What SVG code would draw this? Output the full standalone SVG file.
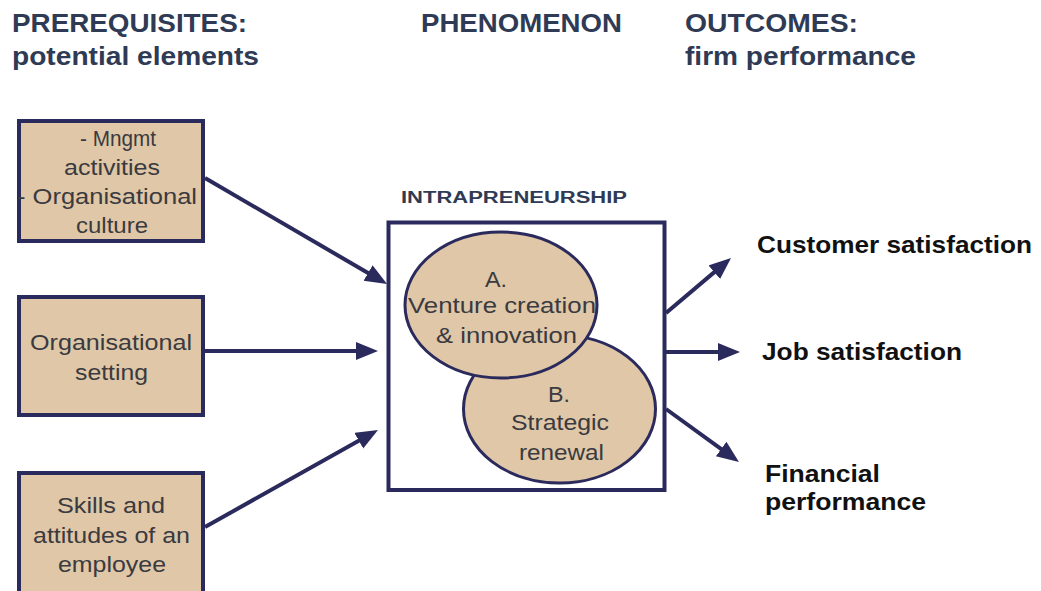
<svg xmlns="http://www.w3.org/2000/svg" width="1041" height="591" viewBox="0 0 1041 591">
<style>
.bg{fill:#ffffff}
.box{fill:#dfc7a7;stroke:#2a2a5c;stroke-width:4}
.frame{fill:#ffffff;stroke:#2a2a5c;stroke-width:4}
.ell{fill:#dfc7a7;stroke:#2a2a5c;stroke-width:3}
.head{font-family:"Liberation Sans",Arial,sans-serif;font-weight:bold;font-size:25px;fill:#2f3a55}
.sub{font-family:"Liberation Sans",Arial,sans-serif;font-weight:bold;font-size:16px;fill:#2f3a55}
.nt{font-family:"Liberation Sans",Arial,sans-serif;font-size:22px;fill:#3a3a40}
.out{font-family:"Liberation Sans",Arial,sans-serif;font-weight:bold;font-size:24px;fill:#111111}
.conn{stroke:#2a2a5c;stroke-width:4;fill:none;marker-end:url(#ah)}
</style>
<defs>
<marker id="ah" markerUnits="userSpaceOnUse" markerWidth="24" markerHeight="20" refX="4" refY="9" orient="auto">
<path d="M0,0 L22,9 L0,18 z" fill="#2a2a5c"/>
</marker>
</defs>
<rect class="bg" x="0" y="0" width="1041" height="591"/>
<g id="headings">
<text class="head" x="12" y="32" textLength="235" lengthAdjust="spacingAndGlyphs">PREREQUISITES:</text>
<text class="head" x="12" y="65" textLength="247" lengthAdjust="spacingAndGlyphs">potential elements</text>
<text class="head" x="421" y="32" textLength="201" lengthAdjust="spacingAndGlyphs">PHENOMENON</text>
<text class="head" x="685" y="32" textLength="173" lengthAdjust="spacingAndGlyphs">OUTCOMES:</text>
<text class="head" x="685" y="65" textLength="231" lengthAdjust="spacingAndGlyphs">firm performance</text>
</g>
<g id="connectors">
<line class="conn" x1="205" y1="178" x2="371.5" y2="275"/>
<line class="conn" x1="205" y1="351" x2="360" y2="351"/>
<line class="conn" x1="205" y1="527" x2="362.3" y2="438.8"/>
<line class="conn" x1="666" y1="313" x2="717.3" y2="269.6"/>
<line class="conn" x1="666" y1="352" x2="722" y2="352"/>
<line class="conn" x1="666" y1="409" x2="724.4" y2="451.4"/>
</g>
<g id="node-mgmt">
<rect class="box" x="19" y="121" width="184" height="120"/>
<text class="nt" x="80" y="146" textLength="76" lengthAdjust="spacingAndGlyphs">- Mngmt</text>
<text class="nt" x="64" y="175" textLength="96" lengthAdjust="spacingAndGlyphs">activities</text>
<text class="nt" x="17" y="204" textLength="180" lengthAdjust="spacingAndGlyphs">- Organisational</text>
<text class="nt" x="76" y="233" textLength="72" lengthAdjust="spacingAndGlyphs">culture</text>
</g>
<g id="node-setting">
<rect class="box" x="19" y="297" width="184" height="118"/>
<text class="nt" x="30" y="350" textLength="162" lengthAdjust="spacingAndGlyphs">Organisational</text>
<text class="nt" x="75" y="380" textLength="73" lengthAdjust="spacingAndGlyphs">setting</text>
</g>
<g id="node-skills">
<rect class="box" x="19" y="473" width="184" height="130"/>
<text class="nt" x="57" y="513" textLength="108" lengthAdjust="spacingAndGlyphs">Skills and</text>
<text class="nt" x="33" y="543" textLength="157" lengthAdjust="spacingAndGlyphs">attitudes of an</text>
<text class="nt" x="58" y="572" textLength="108" lengthAdjust="spacingAndGlyphs">employee</text>
</g>
<g id="node-intrapreneurship">
<text class="sub" x="401" y="203" textLength="226" lengthAdjust="spacingAndGlyphs">INTRAPRENEURSHIP</text>
<rect class="frame" x="388.5" y="222.5" width="276" height="267.5"/>
</g>
<g id="node-b">
<ellipse class="ell" cx="559.5" cy="409" rx="96" ry="74"/>
<text class="nt" x="548" y="402" textLength="22" lengthAdjust="spacingAndGlyphs">B.</text>
<text class="nt" x="511" y="430" textLength="98" lengthAdjust="spacingAndGlyphs">Strategic</text>
<text class="nt" x="519" y="460" textLength="85" lengthAdjust="spacingAndGlyphs">renewal</text>
</g>
<g id="node-a">
<ellipse class="ell" cx="501" cy="305" rx="96" ry="73"/>
<text class="nt" x="485" y="287" textLength="22" lengthAdjust="spacingAndGlyphs">A.</text>
<text class="nt" x="408" y="313" textLength="188" lengthAdjust="spacingAndGlyphs">Venture creation</text>
<text class="nt" x="436" y="343" textLength="141" lengthAdjust="spacingAndGlyphs">&amp; innovation</text>
</g>
<g id="node-customer">
<text class="out" x="757" y="253" textLength="275" lengthAdjust="spacingAndGlyphs">Customer satisfaction</text>
</g>
<g id="node-job">
<text class="out" x="762" y="360" textLength="200" lengthAdjust="spacingAndGlyphs">Job satisfaction</text>
</g>
<g id="node-financial">
<text class="out" x="765" y="482" textLength="115" lengthAdjust="spacingAndGlyphs">Financial</text>
<text class="out" x="765" y="510" textLength="161" lengthAdjust="spacingAndGlyphs">performance</text>
</g>
</svg>
